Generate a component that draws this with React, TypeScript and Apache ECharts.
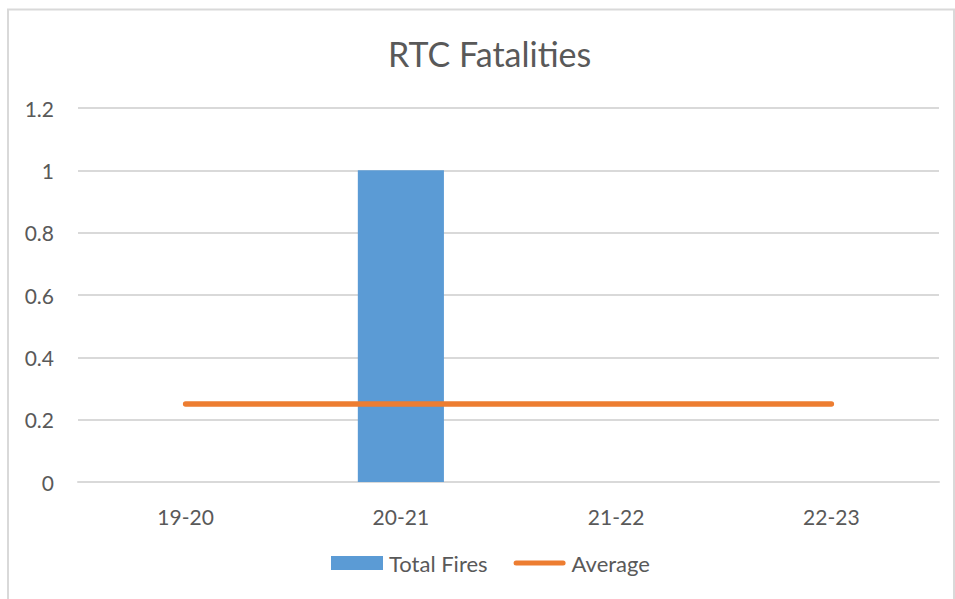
import React, { useEffect, useRef } from "react";
import * as echarts from "echarts";

const title = "RTC Fatalities";
const categories = ["19-20", "20-21", "21-22", "22-23"];
const totalFires = [0, 1, 0, 0];
const average = [0.25, 0.25, 0.25, 0.25];
const yTicks = { min: 0, max: 1.2, interval: 0.2 };

const FONT = "Lato, 'Open Sans', sans-serif";
const TXT = "#595959";

export default function App() {
  const ref = useRef<HTMLDivElement>(null);
  useEffect(() => {
    if (!ref.current) return;
    const chart = echarts.init(ref.current, null, { renderer: "svg" });
    chart.setOption({
      animation: false,
      backgroundColor: "#ffffff",
      textStyle: { fontFamily: FONT },
      title: {
        text: title,
        left: 383,
        top: 31,
        textStyle: { fontFamily: FONT, fontSize: 34, fontWeight: "normal", color: TXT },
      },
      graphic: [
        {
          type: "rect",
          shape: { x: 8, y: 9.5, width: 946, height: 620 },
          style: { fill: "none", stroke: "#d9d9d9", lineWidth: 2 },
          silent: true,
        },
      ],
      grid: { left: 78, right: 16, top: 108, bottom: 117, containLabel: false },
      legend: {
        bottom: 20,
        left: 326,
        itemGap: 26,
        itemWidth: 52,
        itemHeight: 14,
        textStyle: { fontFamily: FONT, fontSize: 22, color: TXT, padding: [0, 0, 0, 1] },
        data: [
          { name: "Total Fires", icon: "rect" },
          {
            name: "Average",
            icon: "path://M2.5,0 L49.5,0 A2.5,2.5 0 0 1 49.5,5 L2.5,5 A2.5,2.5 0 0 1 2.5,0 Z",
          },
        ],
      },
      xAxis: {
        type: "category",
        data: categories,
        axisLine: { show: true, lineStyle: { color: "#d9d9d9", width: 2 } },
        axisTick: { show: false },
        axisLabel: { fontFamily: FONT, fontSize: 21, color: TXT, margin: 24 },
      },
      yAxis: {
        type: "value",
        min: yTicks.min,
        max: yTicks.max,
        interval: yTicks.interval,
        axisLine: { show: false },
        axisTick: { show: false },
        splitLine: { lineStyle: { color: "#d9d9d9", width: 2 } },
        axisLabel: {
          fontFamily: FONT,
          fontSize: 21,
          color: TXT,
          margin: 24,
          formatter: (v: number) => String(Math.round(v * 10) / 10),
        },
      },
      series: [
        {
          name: "Total Fires",
          type: "bar",
          data: totalFires,
          barWidth: "40%",
          itemStyle: { color: "#5b9bd5" },
        },
        {
          name: "Average",
          type: "line",
          data: average,
          symbol: "none",
          lineStyle: { color: "#ed7d31", width: 5.5, cap: "round" },
          itemStyle: { color: "#ed7d31" },
        },
      ],
    });
    return () => chart.dispose();
  }, []);
  return (
    <div
      ref={ref}
      style={{ position: "absolute", left: 0, top: 0, width: 955, height: 599 }}
    />
  );
}
